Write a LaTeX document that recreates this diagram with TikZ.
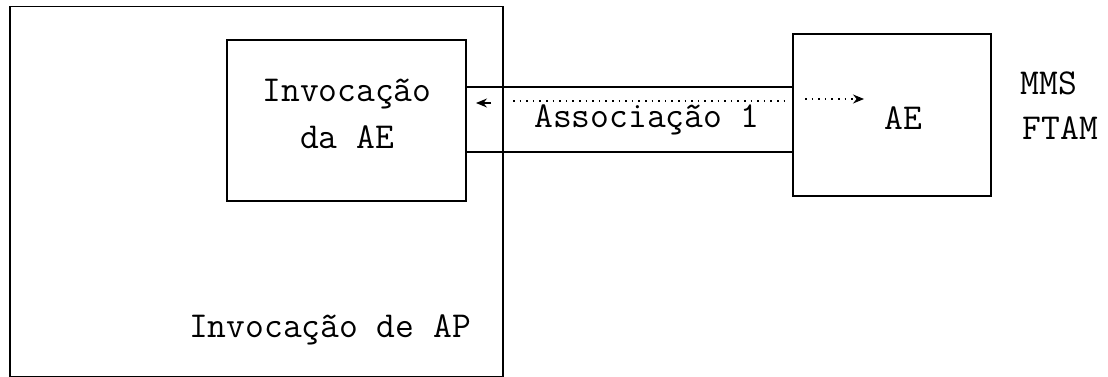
\documentclass[tikz,border=0pt]{standalone}
\usetikzlibrary{arrows.meta}

\begin{document}
\begin{tikzpicture}[x=1pt,y=-1pt,>={Stealth[length=11pt,width=9pt]},line width=1.2pt,
    box/.style={draw,rectangle,inner sep=0pt},
    dots/.style={dash pattern=on 1.6pt off 5pt,line width=1.3pt},
    label node/.style={font=\ttfamily\fontsize{36.5}{47}\selectfont,inner sep=0pt,align=center}]

    \useasboundingbox (0,0) rectangle (1108,377);

    % boxes
    \node[box,minimum width=493pt,minimum height=370pt] (ap) at (256.5,191.5) {};
    \node[box,minimum width=239pt,minimum height=161pt] (inv) at (346.5,120.5) {};
    \node[box,minimum width=198pt,minimum height=162pt] (ae) at (892,115) {};

    % texts
    \node[label node] (invtext) at (347,114) {Invocação\\da AE};
    \node[label node] (aptext) at (330,330) {Invocação de AP};
    \node[label node] (assoc) at (647,120) {Associação 1};
    \node[label node] (aetext) at (903,118) {AE};
    \node[label node,anchor=west] (mms) at (1020,83) {MMS};
    \node[label node,anchor=west] (ftam) at (1022,128) {FTAM};

    % association channel
    \coordinate (chtop) at (0,87);
    \coordinate (chbot) at (0,152);
    \draw (inv.east |- chtop) -- (ae.west |- chtop);
    \draw (inv.east |- chbot) -- (ae.west |- chbot);

    \coordinate (back1) at (491,103);
    \coordinate (back2) at (476,103);
    \coordinate (dot1) at (513,101);
    \coordinate (dot2) at (786,101);
    \coordinate (fwd1) at (805,99);
    \coordinate (fwd2) at (864,99);
    \draw[->,line width=1.2pt] (back1) -- (back2);
    \draw[dots] (dot1) -- (dot2);
    \draw[->,dots] (fwd1) -- (fwd2);
\end{tikzpicture}
\end{document}
